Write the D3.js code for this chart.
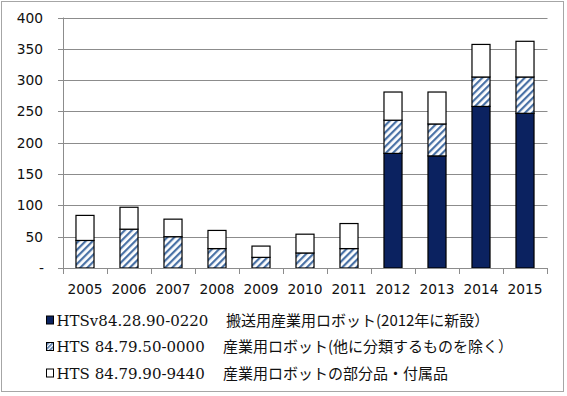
<!DOCTYPE html>
<html><head><meta charset="utf-8">
<script src="https://cdn.jsdelivr.net/npm/d3@7"></script>
<style>body{margin:0;background:#fff}</style>
</head><body>
<svg id="c" width="567" height="396"></svg>
<script>
const years = ["2005","2006","2007","2008","2009","2010","2011","2012","2013","2014","2015"];
const navyVals  = [0,0,0,0,0,0,0,183,179,258,247];
const hatchVals = [44,62,50,31,17,24,31,53,51,47,58];
const whiteVals = [40,35,28,29,18,30,40,45,51,52,57];
const yTicks = [0,50,100,150,200,250,300,350,400];
const codes = ["HTSv84.28.90-0220","HTS 84.79.50-0000","HTS 84.79.90-9440"];
const names = ["搬送用産業用ロボット(2012年に新設）","産業用ロボット(他に分類するものを除く）","産業用ロボットの部分品・付属品"];

const svg = d3.select("#c");
const defs = svg.append("defs");
const pat = defs.append("pattern").attr("id","hatch").attr("patternUnits","userSpaceOnUse")
  .attr("width",5).attr("height",5).attr("patternTransform","rotate(45)");
pat.append("rect").attr("width",5).attr("height",5).attr("fill","#fff");
pat.append("rect").attr("x",0).attr("width",2.2).attr("height",5).attr("fill","#4a72a6");

svg.append("rect").attr("x",1.5).attr("y",1.5).attr("width",562).attr("height",390)
  .attr("fill","#fff").attr("stroke","#a6a6a6");

const x = d3.scaleBand().domain(years).range([63,547]).paddingInner(0.59).paddingOuter(0.295);
const y = d3.scaleLinear().domain([0,400]).range([268,17.5]);

const fontSans = "DejaVu Sans, Verdana, sans-serif";
const g = svg.append("g");
yTicks.forEach(t=>{
  if(t>0) g.append("line").attr("x1",58).attr("x2",547.5).attr("y1",Math.round(y(t))+0.5).attr("y2",Math.round(y(t))+0.5)
    .attr("stroke","#8c8c8c").attr("stroke-width",1);
  g.append("text").attr("x",t===0?44:43).attr("y",y(t)+5).attr("text-anchor","end")
    .attr("font-family",fontSans).attr("font-size",13.8).attr("fill","#111")
    .text(t===0?"-":t);
});
g.append("line").attr("x1",63.5).attr("x2",63.5).attr("y1",17.5).attr("y2",268).attr("stroke","#8c8c8c");

const series = [
  {vals:navyVals, fill:"#0b2260"},
  {vals:hatchVals, fill:"url(#hatch)"},
  {vals:whiteVals, fill:"#fff"}
];
years.forEach((yr,i)=>{
  let base = 0;
  series.forEach(s=>{
    const v = s.vals[i];
    if(v>0){
      svg.append("rect").attr("x",x(yr)).attr("width",x.bandwidth())
        .attr("y",y(base+v)).attr("height",y(base)-y(base+v))
        .attr("fill",s.fill).attr("stroke","#000").attr("stroke-width",1.2);
    }
    base += v;
  });
});

svg.append("line").attr("x1",58).attr("x2",547.5).attr("y1",268.5).attr("y2",268.5).attr("stroke","#8c8c8c");
const step = x.step();
for(let k=0;k<=years.length;k++){
  const xx = Math.round(63+step*k)+0.5;
  svg.append("line").attr("x1",xx).attr("x2",xx).attr("y1",268).attr("y2",274).attr("stroke","#8c8c8c");
}
years.forEach(yr=>{
  svg.append("text").attr("x",x(yr)+x.bandwidth()/2).attr("y",294).attr("text-anchor","middle")
    .attr("font-family",fontSans).attr("font-size",13.8).attr("fill","#111").text(yr);
});

const fills = ["#0b2260","url(#hatch2)","#fff"];
const pat2 = defs.append("pattern").attr("id","hatch2").attr("patternUnits","userSpaceOnUse")
  .attr("width",3).attr("height",3).attr("patternTransform","rotate(45)");
pat2.append("rect").attr("width",3).attr("height",3).attr("fill","#fff");
pat2.append("rect").attr("width",1.6).attr("height",3).attr("fill","#4a72a6");
const rowY = [320, 346.5, 373];
codes.forEach((c,i)=>{
  const cy = rowY[i];
  svg.append("rect").attr("x",46.5).attr("y",cy-4).attr("width",7).attr("height",8)
    .attr("fill",fills[i]).attr("stroke","#000").attr("stroke-width",1);
  svg.append("text").attr("x",56.5).attr("y",cy+5.5)
    .attr("font-family","DejaVu Serif, serif").attr("font-size",15).attr("fill","#111").text(c);
  svg.append("text").attr("x",i===0?226:223).attr("y",cy+5.5)
    .attr("font-family","Noto Sans CJK JP, sans-serif").attr("font-size",15).attr("fill","#111").text(names[i]);
});
</script>
</body></html>
